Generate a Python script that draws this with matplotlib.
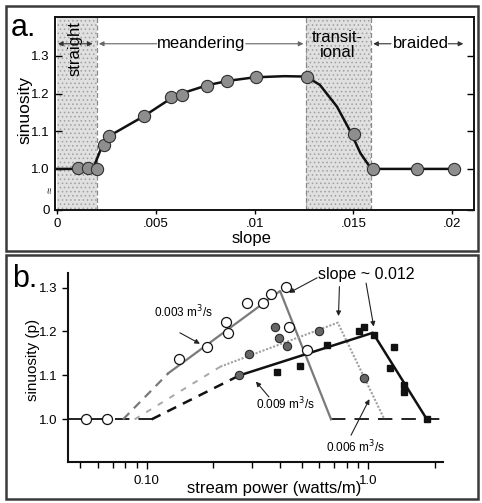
import matplotlib
matplotlib.use("Agg")
import matplotlib.pyplot as plt
from matplotlib.patches import Rectangle
from matplotlib.ticker import FixedLocator, NullFormatter

plt.rcParams['font.family'] = ['Liberation Sans', 'DejaVu Sans']

W, H = 482, 503

# ---------------- panel a: sinuosity vs slope ----------------
slope_pts = [0.00106, 0.00157, 0.00205, 0.00239, 0.00263, 0.00441, 0.00579,
             0.00635, 0.00759, 0.00862, 0.01005, 0.01266, 0.01502, 0.01600,
             0.01820, 0.02007]
sinuosity_pts = [1.003, 1.003, 1.0, 1.064, 1.088, 1.140, 1.192, 1.196, 1.220,
                 1.233, 1.243, 1.245, 1.092, 1.0, 1.0, 1.0]

trend_slope = [0.0, 0.00182, 0.00234, 0.0028, 0.0044, 0.0060, 0.0076, 0.0087,
               0.0100, 0.0115, 0.0126, 0.0133, 0.01417, 0.01485, 0.01535,
               0.01586, 0.0163, 0.0202]
trend_sinuosity = [1.0, 1.0, 1.068, 1.092, 1.140, 1.195, 1.222, 1.234, 1.243,
                   1.246, 1.245, 1.223, 1.165, 1.099, 1.042, 1.003, 1.0, 1.0]

straight_band = (0.0, 0.0020)
transitional_band = (0.0126, 0.0159)

a_yticks = [0.891, 1.0, 1.1, 1.2, 1.3]
a_yticklabels = ["0", "1.0", "1.1", "1.2", "1.3"]
a_xticks = [0.0, 0.005, 0.01, 0.015, 0.02]
a_xticklabels = ["0", ".005", ".01", ".015", ".02"]

# ---------------- panel b: sinuosity vs stream power ----------------
q003_power = [0.053, 0.0658, 0.1396, 0.186, 0.227, 0.233, 0.2826, 0.334,
              0.363, 0.4256, 0.4406, 0.531]
q003_sinuosity = [1.0, 1.0, 1.137, 1.165, 1.222, 1.196, 1.264, 1.264, 1.285,
                  1.302, 1.211, 1.158]
q006_power = [0.262, 0.290, 0.379, 0.397, 0.4285, 0.602, 0.962]
q006_sinuosity = [1.100, 1.148, 1.210, 1.184, 1.167, 1.202, 1.093]
q009_power = [0.387, 0.494, 0.652, 0.913, 0.962, 1.068, 1.315, 1.257, 1.459,
              1.459, 1.844]
q009_sinuosity = [1.108, 1.122, 1.169, 1.200, 1.211, 1.192, 1.165, 1.116,
                  1.078, 1.063, 1.0]

# fitted trends (extrapolated parts dashed)
q003_ext_power, q003_ext_sin = [0.078, 0.125], [1.0, 1.105]
q003_fit_power, q003_fit_sin = [0.125, 0.40, 0.68], [1.105, 1.292, 1.0]
q006_ext_power, q006_ext_sin = [0.088, 0.215], [1.0, 1.12]
q006_fit_power, q006_fit_sin = [0.215, 0.729, 1.185], [1.12, 1.22, 1.0]
q009_ext_power, q009_ext_sin = [0.105, 0.262], [1.0, 1.10]
q009_fit_power, q009_fit_sin = [0.262, 1.05, 1.844], [1.10, 1.197, 1.0]
base_left_power = [0.044, 0.105]
base_right_power = [0.68, 2.18]

b_xlim = (0.044, 2.18)
b_ylim = (0.903, 1.333)
b_major = [0.1, 1.0]
b_major_labels = ["0.10", "1.0"]
b_minor = [0.05, 0.06, 0.07, 0.08, 0.09, 0.2, 0.3, 0.4, 0.5, 0.6, 0.7, 0.8,
           0.9, 2.0]
b_yticks = [1.0, 1.1, 1.2, 1.3]


def fx(x):
    return x / W


def fy(y):
    return 1 - y / H


fig = plt.figure(figsize=(W / 100, H / 100), dpi=100)

# panel frames
for (x0, y0, x1, y1) in [(6, 6, 478, 251), (6, 255, 478, 499)]:
    fig.patches.append(Rectangle((fx(x0), fy(y1)), fx(x1) - fx(x0), fy(y0) - fy(y1),
                                 transform=fig.transFigure, fill=False,
                                 edgecolor="#3a3a3a", linewidth=1.8))

# ======================= panel a =======================
axa = fig.add_axes([fx(55), fy(210), fx(474) - fx(55), fy(17) - fy(210)])
axa.set_xlim(-0.0001, 0.0211)
axa.set_ylim(0.891, 1.403)

plt.rcParams['hatch.linewidth'] = 0.6
for lo, hi in (straight_band, transitional_band):
    axa.axvspan(lo, hi, facecolor="#e0e0e0", edgecolor="#a0a0a0", hatch="....",
                linewidth=0, zorder=0)
for xv in (straight_band[1], transitional_band[0], transitional_band[1]):
    axa.axvline(xv, color="#8a8a8a", linestyle=(0, (4, 2)), linewidth=0.9, zorder=1)

axa.plot(trend_slope, trend_sinuosity, color="#111111", linewidth=1.8, zorder=2)
axa.plot(slope_pts, sinuosity_pts, linestyle="none", marker="o", markersize=8.8,
         markerfacecolor="#8e8e8e", markeredgecolor="#303030",
         markeredgewidth=0.8, zorder=3)

axa.set_xticks(a_xticks)
axa.set_xticklabels(a_xticklabels)
axa.set_yticks(a_yticks)
axa.set_yticklabels(a_yticklabels)
axa.tick_params(axis="x", direction="out", length=3, width=1, labelsize=9.5, pad=3)
axa.tick_params(axis="y", direction="in", length=5, width=1, labelsize=9.5,
                right=True, pad=4)
for s in axa.spines.values():
    s.set_linewidth(1.4)
    s.set_color("#111111")

# axis break symbol between 0 and 1.0
axa.annotate("≈", xy=(0, 0.945), xycoords=("axes fraction", "data"),
             xytext=(-3, 0), textcoords="offset points", ha="center", va="center",
             fontsize=8, rotation=90, color="#222222")

# regime labels
yl = 1.332
axa.text(0.00092, 1.318, "straight", rotation=90, ha="center", va="center",
         fontsize=12)
arrow_kw = dict(arrowstyle="-|>", color="#333333", linewidth=0.8,
                mutation_scale=7, shrinkA=0, shrinkB=0)
axa.annotate("", xy=(0.00005, yl), xytext=(0.0009, yl), arrowprops=arrow_kw)
axa.annotate("", xy=(0.0018, yl), xytext=(0.0009, yl), arrowprops=arrow_kw)
axa.text(0.0073, yl, "meandering", ha="center", va="center", fontsize=12)
axa.annotate("", xy=(0.00212, yl), xytext=(0.00505, yl),
             arrowprops=dict(arrow_kw, color="#666666"))
axa.annotate("", xy=(0.01247, yl), xytext=(0.00955, yl),
             arrowprops=dict(arrow_kw, color="#666666"))
axa.text(0.0142, 1.329, "transit-\nional", ha="center", va="center",
         fontsize=12, linespacing=0.95)
axa.text(0.0184, yl, "braided", ha="center", va="center", fontsize=12)
axa.annotate("", xy=(0.0160, yl), xytext=(0.0169, yl), arrowprops=arrow_kw)
axa.annotate("", xy=(0.02056, yl), xytext=(0.0198, yl), arrowprops=arrow_kw)

fig.text(fx(23), fy(28), "a.", fontsize=22, ha="center", va="center")
fig.text(fx(25), fy(110), "sinuosity", rotation=90, ha="center", va="center",
         fontsize=12.5)
fig.text(fx(252), fy(238), "slope", ha="center", va="center", fontsize=12)

# ======================= panel b =======================
axb = fig.add_axes([fx(68), fy(462), fx(443) - fx(68), fy(273) - fy(462)])
axb.set_xscale("log")
axb.set_xlim(*b_xlim)
axb.set_ylim(*b_ylim)

# baseline of unit sinuosity
axb.plot(base_left_power, [1.0, 1.0], color="#111111", linewidth=1.3,
         linestyle=(0, (8, 5)), zorder=2)
axb.plot(base_right_power, [1.0, 1.0], color="#111111", linewidth=1.3,
         linestyle=(0, (8, 5)), zorder=2)

# 0.003 m3/s trend
axb.plot(q003_ext_power, q003_ext_sin, color="#7a7a7a", linewidth=1.6,
         linestyle=(0, (4, 3)), zorder=2)
axb.plot(q003_fit_power, q003_fit_sin, color="#7a7a7a", linewidth=1.6, zorder=2)
# 0.006 m3/s trend
axb.plot(q006_ext_power, q006_ext_sin, color="#a8a8a8", linewidth=1.4,
         linestyle=(0, (3, 4)), zorder=2)
axb.plot(q006_fit_power, q006_fit_sin, color="#a0a0a0", linewidth=1.5,
         linestyle=(0, (1, 0.8)), zorder=2)
# 0.009 m3/s trend
axb.plot(q009_ext_power, q009_ext_sin, color="#111111", linewidth=1.8,
         linestyle=(0, (4, 3)), zorder=2)
axb.plot(q009_fit_power, q009_fit_sin, color="#111111", linewidth=1.8, zorder=2)

axb.plot(q003_power, q003_sinuosity, linestyle="none", marker="o", markersize=7.2,
         markerfacecolor="white", markeredgecolor="#111111",
         markeredgewidth=0.9, zorder=4)
axb.plot(q006_power, q006_sinuosity, linestyle="none", marker="o", markersize=6.0,
         markerfacecolor="#666666", markeredgecolor="#2a2a2a",
         markeredgewidth=0.8, zorder=4)
axb.plot(q009_power, q009_sinuosity, linestyle="none", marker="s", markersize=4.6,
         markerfacecolor="#111111", markeredgecolor="#111111", zorder=4)

axb.xaxis.set_major_locator(FixedLocator(b_major))
axb.set_xticklabels(b_major_labels)
axb.xaxis.set_minor_locator(FixedLocator(b_minor))
axb.xaxis.set_minor_formatter(NullFormatter())
axb.set_yticks(b_yticks)
axb.set_yticklabels([f"{v:.1f}" for v in b_yticks])
axb.tick_params(axis="x", which="major", direction="out", length=5, width=1,
                labelsize=9.5, pad=4)
axb.tick_params(axis="x", which="minor", direction="out", length=4, width=1)
axb.tick_params(axis="y", direction="out", length=4, width=1, labelsize=9.5)
axb.spines["top"].set_visible(False)
axb.spines["right"].set_visible(False)
for s in ("left", "bottom"):
    axb.spines[s].set_linewidth(1.5)
    axb.spines[s].set_color("#111111")

ann_kw = dict(arrowstyle="-|>", color="#222222", linewidth=0.8,
              mutation_scale=7, shrinkA=0, shrinkB=0)
axb.text(0.147, 1.244, "0.003 m$^{3}$/s", ha="center", va="center", fontsize=8.5)
axb.annotate("", xy=(0.1737, 1.172), xytext=(0.141, 1.197), arrowprops=ann_kw)
axb.text(0.595, 1.329, "slope ~ 0.012", ha="left", va="center", fontsize=11.5)
axb.annotate("", xy=(0.4397, 1.288), xytext=(0.588, 1.322), arrowprops=ann_kw)
axb.annotate("", xy=(0.7343, 1.235), xytext=(0.7418, 1.302), arrowprops=ann_kw)
axb.annotate("", xy=(1.06, 1.211), xytext=(0.979, 1.310), arrowprops=ann_kw)
axb.text(0.4216, 1.035, "0.009 m$^{3}$/s", ha="center", va="center", fontsize=8.5)
axb.annotate("", xy=(0.311, 1.086), xytext=(0.3563, 1.051), arrowprops=ann_kw)
axb.text(0.873, 0.937, "0.006 m$^{3}$/s", ha="center", va="center", fontsize=8.5)
axb.annotate("", xy=(1.0136, 1.046), xytext=(0.837, 0.964), arrowprops=ann_kw)

fig.text(fx(25), fy(279), "b.", fontsize=22, ha="center", va="center")
fig.text(fx(33), fy(360), "sinuosity (p)", rotation=90, ha="center", va="center",
         fontsize=11)
fig.text(fx(274), fy(488), "stream power (watts/m)", ha="center", va="center",
         fontsize=12)

fig.savefig("out.png", dpi=100)
